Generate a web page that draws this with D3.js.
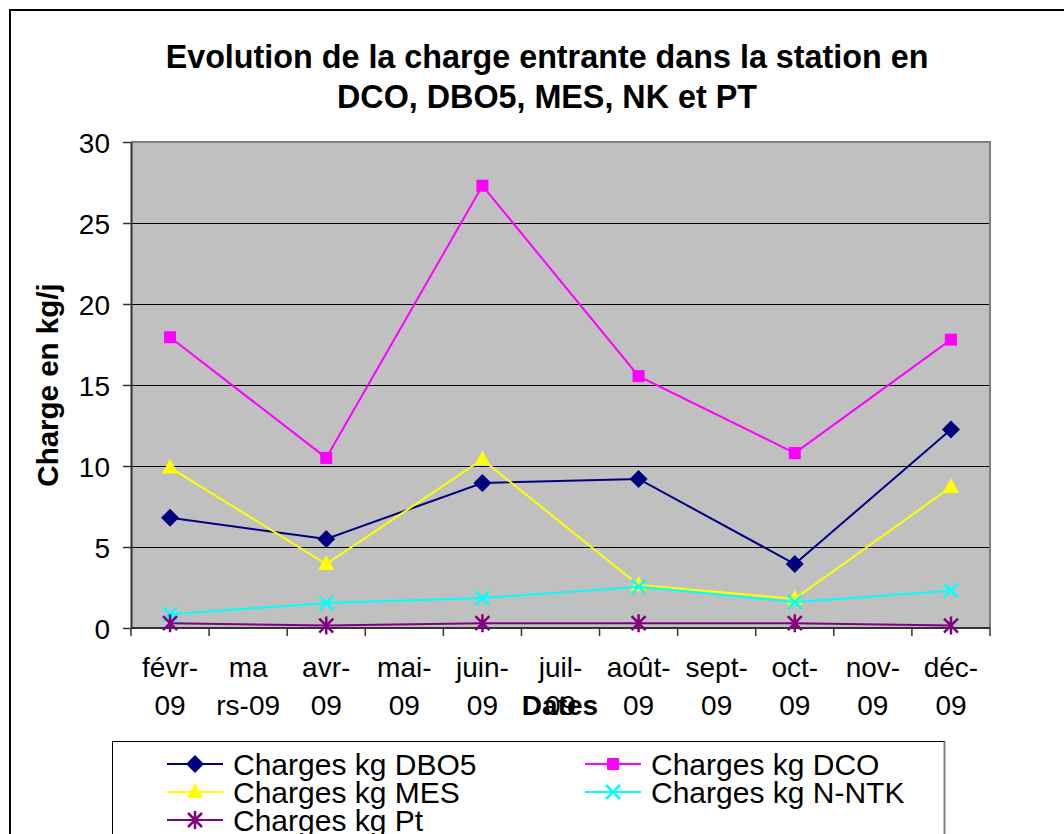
<!DOCTYPE html>
<html lang="fr">
<head>
    <meta charset="UTF-8">
    <title>Evolution de la charge entrante</title>
    <script src="https://d3js.org/d3.v7.min.js"></script>
    <style>
        body { margin: 0; background: #fff; }
        svg text { font-family: "Liberation Sans", Arial, sans-serif; fill: #000; }
        .grid line { stroke: #000; stroke-width: 1px; }
        .serie { fill: none; stroke-width: 2px; }
    </style>
</head>
<body>
    <script>
        // mois (axe des x) et libellés sur deux lignes
        const months = ["févr-09", "mars-09", "avr-09", "mai-09", "juin-09", "juil-09",
                        "août-09", "sept-09", "oct-09", "nov-09", "déc-09"];
        const monthLabels = [["févr-", "09"], ["ma", "rs-09"], ["avr-", "09"], ["mai-", "09"],
                             ["juin-", "09"], ["juil-", "09"], ["août-", "09"], ["sept-", "09"],
                             ["oct-", "09"], ["nov-", "09"], ["déc-", "09"]];
        const yTicks = [0, 5, 10, 15, 20, 25, 30];

        // mesures tous les deux mois (null = pas de mesure)
        const dbo5 = [6.8, null, 5.5, null, 8.95, null, 9.2, null, 3.95, null, 12.25];
        const dco  = [17.95, null, 10.5, null, 27.3, null, 15.55, null, 10.8, null, 17.8];
        const mes  = [9.9, null, 3.95, null, 10.4, null, 2.65, null, 1.8, null, 8.7];
        const nntk = [0.85, null, 1.55, null, 1.85, null, 2.55, null, 1.6, null, 2.3];
        const pt   = [0.3, null, 0.15, null, 0.3, null, 0.3, null, 0.3, null, 0.15];

        const series = [
            { name: "Charges kg DBO5",  values: dbo5, color: "#000080", marker: "diamond" },
            { name: "Charges kg DCO",   values: dco,  color: "#ff00ff", marker: "square" },
            { name: "Charges kg MES",   values: mes,  color: "#ffff00", marker: "triangle" },
            { name: "Charges kg N-NTK", values: nntk, color: "#00ffff", marker: "cross" },
            { name: "Charges kg Pt",    values: pt,   color: "#800080", marker: "star" }
        ];

        const W = 1064, H = 834;
        const plot = { left: 131, right: 990, top: 142, bottom: 628 };

        const svg = d3.select("body").append("svg")
            .attr("width", W)
            .attr("height", H);

        // cadre du graphique
        svg.append("rect")
            .attr("x", 10).attr("y", 10)
            .attr("width", 1080).attr("height", 860)
            .attr("fill", "#fff")
            .attr("stroke", "#000").attr("stroke-width", 2);

        // titre
        const title = svg.append("text")
            .attr("text-anchor", "middle")
            .style("font-size", "32.3px")
            .style("font-weight", "bold");
        title.append("tspan").attr("x", 547).attr("y", 68)
            .text("Evolution de la charge entrante dans la station en");
        title.append("tspan").attr("x", 547).attr("y", 108)
            .text("DCO, DBO5, MES, NK et PT");

        const x = d3.scaleBand()
            .domain(months)
            .range([plot.left, plot.right])
            .padding(0);

        const y = d3.scaleLinear()
            .domain([0, 30])
            .range([plot.bottom, plot.top]);

        // zone de tracé
        svg.append("rect")
            .attr("x", plot.left).attr("y", plot.top)
            .attr("width", plot.right - plot.left)
            .attr("height", plot.bottom - plot.top)
            .attr("fill", "#c0c0c0");

        // quadrillage
        svg.append("g")
            .attr("class", "grid")
            .selectAll("line")
            .data(yTicks.filter(d => d > 0 && d < 30))
            .enter().append("line")
            .attr("x1", plot.left).attr("x2", plot.right)
            .attr("y1", d => Math.round(y(d)) + 0.5)
            .attr("y2", d => Math.round(y(d)) + 0.5);

        // bordure haut / droite
        svg.append("path")
            .attr("d", `M${plot.left},${plot.top} H${plot.right} V${plot.bottom}`)
            .attr("fill", "none")
            .attr("stroke", "#808080")
            .attr("stroke-width", 2);

        // axe Y
        const yAxis = svg.append("g")
            .attr("transform", `translate(${plot.left},0)`)
            .call(d3.axisLeft(y).tickValues(yTicks).tickSize(8).tickPadding(13).tickSizeOuter(0));
        yAxis.select(".domain").attr("stroke", "#333").attr("stroke-width", 2);
        yAxis.selectAll(".tick line").attr("stroke", "#333").attr("stroke-width", 1.5);
        yAxis.selectAll(".tick text")
            .style("font-size", "28px")
            .attr("font-family", null)
            .attr("dy", "0.36em");

        // axe X (graduations entre les catégories)
        const xAxis = svg.append("g");
        xAxis.append("line")
            .attr("x1", plot.left).attr("x2", plot.right)
            .attr("y1", plot.bottom).attr("y2", plot.bottom)
            .attr("stroke", "#333").attr("stroke-width", 2);
        const edges = months.map(m => x(m)).concat([x.range()[1]]);
        xAxis.selectAll(".xtick")
            .data(edges)
            .enter().append("line")
            .attr("class", "xtick")
            .attr("x1", d => d).attr("x2", d => d)
            .attr("y1", plot.bottom).attr("y2", plot.bottom + 8)
            .attr("stroke", "#333").attr("stroke-width", 1.5);

        const xl = xAxis.selectAll(".xlabel")
            .data(months)
            .enter().append("text")
            .attr("class", "xlabel")
            .attr("text-anchor", "middle")
            .style("font-size", "28px");
        xl.append("tspan")
            .attr("x", d => x(d) + x.bandwidth() / 2)
            .attr("y", 677)
            .text((d, i) => monthLabels[i][0]);
        xl.append("tspan")
            .attr("x", d => x(d) + x.bandwidth() / 2)
            .attr("y", 715)
            .text((d, i) => monthLabels[i][1]);

        // titres des axes
        svg.append("text")
            .attr("x", 560).attr("y", 715)
            .attr("text-anchor", "middle")
            .style("font-size", "28px")
            .style("font-weight", "bold")
            .text("Dates");

        svg.append("text")
            .attr("transform", "translate(58,385) rotate(-90)")
            .attr("text-anchor", "middle")
            .style("font-size", "29.5px")
            .style("font-weight", "bold")
            .text("Charge en kg/j");

        // marqueurs
        function drawMarker(g, type, color) {
            if (type === "diamond") {
                g.append("path").attr("d", "M0,-9 L9,0 L0,9 L-9,0 Z").attr("fill", color);
            } else if (type === "square") {
                g.append("rect").attr("x", -6).attr("y", -6).attr("width", 12).attr("height", 12).attr("fill", color);
            } else if (type === "triangle") {
                g.append("path").attr("d", "M0,-9 L8,6 L-8,6 Z").attr("fill", color);
            } else if (type === "cross") {
                g.append("path").attr("d", "M-7,-7 L7,7 M-7,7 L7,-7")
                    .attr("stroke", color).attr("stroke-width", 2.5);
            } else if (type === "star") {
                g.append("path").attr("d", "M-7,-7 L7,7 M-7,7 L7,-7 M0,-9 V9")
                    .attr("stroke", color).attr("stroke-width", 2.5);
            }
        }

        const line = d3.line()
            .x(d => x(d.m) + x.bandwidth() / 2)
            .y(d => y(d.v));

        series.forEach(s => {
            const pts = months.map((m, i) => ({ m: m, v: s.values[i] })).filter(d => d.v !== null);
            svg.append("path")
                .datum(pts)
                .attr("class", "serie")
                .attr("stroke", s.color)
                .attr("d", line);
            pts.forEach(p => {
                const g = svg.append("g")
                    .attr("transform", `translate(${x(p.m) + x.bandwidth() / 2},${y(p.v)})`);
                drawMarker(g, s.marker, s.color);
            });
        });

        // légende
        svg.append("rect")
            .attr("x", 112.5).attr("y", 741.5)
            .attr("width", 832).attr("height", 120)
            .attr("fill", "#fff")
            .attr("stroke", "#000").attr("stroke-width", 1);
        svg.append("line")
            .attr("x1", 944.5).attr("x2", 944.5)
            .attr("y1", 741.5).attr("y2", 834)
            .attr("stroke", "#808080").attr("stroke-width", 2);

        const legendPos = [
            { x: 167, y: 764 }, { x: 585, y: 764 },
            { x: 167, y: 792 }, { x: 585, y: 792 },
            { x: 167, y: 820 }
        ];
        series.forEach((s, i) => {
            const p = legendPos[i];
            const g = svg.append("g").attr("transform", `translate(${p.x},${p.y})`);
            g.append("line")
                .attr("x1", 0).attr("x2", 56)
                .attr("stroke", s.color).attr("stroke-width", 2);
            drawMarker(g.append("g").attr("transform", "translate(28,0)"), s.marker, s.color);
            g.append("text")
                .attr("x", 66).attr("y", 11)
                .style("font-size", "30px")
                .text(s.name);
        });
    </script>
</body>
</html>
